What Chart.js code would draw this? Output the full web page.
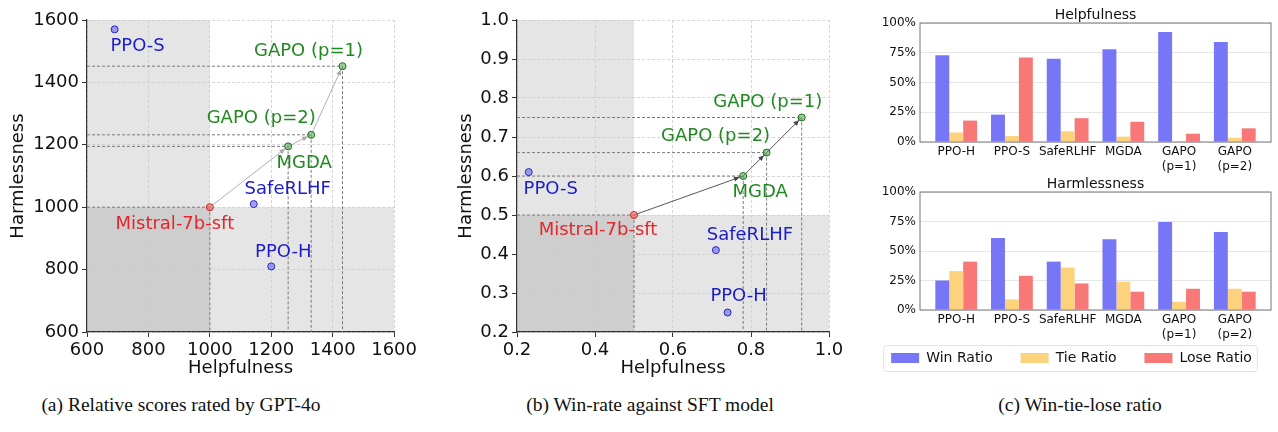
<!DOCTYPE html>
<html lang="en">
<head>
<meta charset="UTF-8" />
<title>Helpfulness vs harmlessness</title>
<script src="https://cdn.jsdelivr.net/npm/chart.js@4.4.1/dist/chart.umd.min.js"></script>
<style>
  body { margin: 0; background: #fff; width: 1278px; height: 432px; position: relative; overflow: hidden; }
  canvas { position: absolute; }
  .cap { position: absolute; top: 394px; font-family: "Liberation Serif", serif; font-size: 19.5px; color: #111;
         white-space: nowrap; transform: translateX(-50%); }
</style>
</head>
<body>
<canvas id="gpt" width="420" height="384" style="left:0;top:0"></canvas>
<canvas id="winrate" width="420" height="384" style="left:430px;top:0"></canvas>
<canvas id="helpBars" width="418" height="178" style="left:860px;top:0"></canvas>
<canvas id="harmBars" width="418" height="208" style="left:860px;top:170px"></canvas>
<div class="cap" style="left:181px">(a) Relative scores rated by GPT-4o</div>
<div class="cap" style="left:650px">(b) Win-rate against SFT model</div>
<div class="cap" style="left:1080px">(c) Win-tie-lose ratio</div>

<script>
// models shown in the two scatter panels
const models = ["PPO-H", "PPO-S", "SafeRLHF", "Mistral-7b-sft", "MGDA", "GAPO (p=2)", "GAPO (p=1)"];
const modelKind = ["base", "base", "base", "sft", "ours", "ours", "ours"];

// (a) relative scores by GPT-4o
const gptHelp = [1200, 690, 1143, 1000, 1255, 1330, 1432];
const gptHarm = [810, 1570, 1010, 1000, 1195, 1232, 1452];

// (b) win-rate against the SFT model
const winHelp = [0.74, 0.23, 0.71, 0.5, 0.78, 0.84, 0.93];
const winHarm = [0.25, 0.61, 0.41, 0.5, 0.6, 0.66, 0.75];

// path drawn from the SFT model through our methods
const pathOrder = ["Mistral-7b-sft", "MGDA", "GAPO (p=2)", "GAPO (p=1)"];

// (c) win / tie / lose ratios (%)
const barModels = [["PPO-H"], ["PPO-S"], ["SafeRLHF"], ["MGDA"], ["GAPO", "(p=1)"], ["GAPO", "(p=2)"]];
const helpWin = [73, 23, 70, 78, 92.5, 84];
const helpTie = [8, 5, 9, 4.5, 0.5, 3.5];
const helpLose = [18, 71, 20, 17, 7, 11.5];
const harmWin = [25, 61, 41, 60, 74.5, 66];
const harmTie = [33, 9, 36, 24, 7, 18];
const harmLose = [41, 29, 22.5, 15.5, 18, 15.5];

// label placement (pixel shift from the point to the text centre)
const labelShiftA = [[12, -14], [23, 17], [34, -15], [-35, 17], [16, 17], [-50, -16], [-34, -15]];
const labelShiftB = [[11, -16], [22, 17], [34, -15], [-36, 15], [17, 16], [-51, -16], [-34, -15]];

Chart.defaults.font.family = "'DejaVu Sans', sans-serif";
Chart.defaults.color = "#111";
Chart.defaults.animation = false;
Chart.defaults.plugins.tooltip.enabled = false;

const kindText = { base: "#1c1cc8", sft: "#e2262a", ours: "#228822" };
const kindFill = { base: "rgba(90,90,240,0.55)", sft: "rgba(236,100,100,0.6)", ours: "rgba(90,170,90,0.6)" };
const kindEdge = { base: "#2424cc", sft: "#d02020", ours: "#1d6e1d" };

function linAxis(o) {
  return {
    type: "linear",
    min: o.min,
    max: o.max,
    ticks: {
      stepSize: o.step, font: { size: 18 }, color: "#111", padding: 3, maxRotation: 0, autoSkip: false,
      callback: (v) => v.toFixed(o.dec)
    },
    grid: { color: "#cccccc", lineWidth: 0.8, tickLength: 5, tickColor: "#333", tickWidth: 1 },
    border: { color: "#333", width: 1.2, dash: [3, 2] },
    title: { display: true, text: o.title, font: { size: 18 }, color: "#111", padding: o.titlePad },
    afterFit: (s) => { if (s.isHorizontal()) s.height = o.fit; else s.width = o.fit; }
  };
}

function scatterPanel(id, xs, ys, cfg) {
  const pts = xs.map((x, i) => ({ x: x, y: ys[i] }));
  const path = pathOrder.map((n) => pts[models.indexOf(n)]);

  const decor = {
    id: "decor",
    beforeDraw(chart) {
      // shaded regions worse than the SFT model on either axis
      const { ctx, chartArea: a, scales } = chart;
      const sx = scales.x.getPixelForValue(cfg.split);
      const sy = scales.y.getPixelForValue(cfg.split);
      ctx.save();
      ctx.fillStyle = "rgba(0,0,0,0.1)";
      ctx.fillRect(a.left, a.top, sx - a.left, a.bottom - a.top);
      ctx.fillRect(a.left, sy, a.right - a.left, a.bottom - sy);
      ctx.restore();
    },
    beforeDatasetsDraw(chart) {
      // dotted projections from the path points to both axes
      const { ctx, chartArea: a, scales } = chart;
      ctx.save();
      ctx.strokeStyle = "#7a7a7a";
      ctx.lineWidth = 1;
      ctx.setLineDash([3, 2]);
      path.forEach((p) => {
        const px = scales.x.getPixelForValue(p.x);
        const py = scales.y.getPixelForValue(p.y);
        ctx.beginPath();
        ctx.moveTo(a.left, py);
        ctx.lineTo(px, py);
        ctx.moveTo(px, py);
        ctx.lineTo(px, a.bottom);
        ctx.stroke();
      });
      ctx.restore();
    },
    afterDatasetsDraw(chart) {
      const { ctx, scales } = chart;
      ctx.save();
      // arrow heads along the path
      ctx.fillStyle = cfg.lineColor;
      for (let i = 1; i < path.length; i++) {
        const x0 = scales.x.getPixelForValue(path[i - 1].x), y0 = scales.y.getPixelForValue(path[i - 1].y);
        const x1 = scales.x.getPixelForValue(path[i].x), y1 = scales.y.getPixelForValue(path[i].y);
        const ang = Math.atan2(y1 - y0, x1 - x0);
        const tx = x1 - Math.cos(ang) * 4, ty = y1 - Math.sin(ang) * 4;
        ctx.beginPath();
        ctx.moveTo(tx, ty);
        ctx.lineTo(tx - Math.cos(ang - 0.45) * 6, ty - Math.sin(ang - 0.45) * 6);
        ctx.lineTo(tx - Math.cos(ang + 0.45) * 6, ty - Math.sin(ang + 0.45) * 6);
        ctx.closePath();
        ctx.fill();
      }
      // model names
      ctx.font = "18px 'DejaVu Sans', sans-serif";
      ctx.textAlign = "center";
      ctx.textBaseline = "middle";
      pts.forEach((p, i) => {
        const px = scales.x.getPixelForValue(p.x);
        const py = scales.y.getPixelForValue(p.y);
        ctx.fillStyle = kindText[modelKind[i]];
        ctx.fillText(models[i], px + cfg.shift[i][0], py + cfg.shift[i][1]);
      });
      ctx.restore();
    }
  };

  return new Chart(document.getElementById(id), {
    type: "scatter",
    data: {
      datasets: [
        {
          data: pts,
          pointRadius: 3.5,
          pointHoverRadius: 3.5,
          pointBorderWidth: 1,
          pointBackgroundColor: modelKind.map((k) => kindFill[k]),
          pointBorderColor: modelKind.map((k) => kindEdge[k]),
          order: 0
        },
        {
          data: path,
          showLine: true,
          pointRadius: 0,
          borderColor: cfg.lineColor,
          borderWidth: 0.9,
          order: 1
        }
      ]
    },
    options: {
      responsive: false,
      layout: { padding: cfg.pad },
      plugins: { legend: { display: false } },
      scales: {
        x: linAxis({ min: cfg.xMin, max: cfg.xMax, step: cfg.xStep, dec: cfg.dec, title: "Helpfulness", fit: 52, titlePad: { top: 0, bottom: 5 } }),
        y: linAxis({ min: cfg.yMin, max: cfg.yMax, step: cfg.yStep, dec: cfg.dec, title: "Harmlessness", fit: cfg.yFit, titlePad: { top: 0, bottom: 0 } })
      }
    },
    plugins: [decor]
  });
}

scatterPanel("gpt", gptHelp, gptHarm, {
  xMin: 600, xMax: 1600, xStep: 200, yMin: 600, yMax: 1600, yStep: 200, dec: 0, split: 1000,
  pad: { top: 20, left: 8, right: 22, bottom: 0 }, yFit: 79, lineColor: "#a8a8a8", shift: labelShiftA
});

scatterPanel("winrate", winHelp, winHarm, {
  xMin: 0.2, xMax: 1.0, xStep: 0.2, yMin: 0.2, yMax: 1.0, yStep: 0.1, dec: 1, split: 0.5,
  pad: { top: 20, left: 26, right: 21, bottom: 0 }, yFit: 61, lineColor: "#444", shift: labelShiftB
});

const barColors = ["rgba(118,118,246,1)", "rgba(253,210,125,1)", "rgba(248,120,120,1)"];

function barPanel(id, title, win, tie, lose, cfg) {
  const framePlugin = {
    id: "frame",
    afterDatasetsDraw(chart) {
      const { ctx, chartArea: a } = chart;
      ctx.save();
      ctx.strokeStyle = "#777";
      ctx.lineWidth = 1;
      ctx.strokeRect(a.left, a.top, a.right - a.left, a.bottom - a.top);
      ctx.font = "14px 'DejaVu Sans', sans-serif";
      ctx.fillStyle = "#111";
      ctx.textAlign = "center";
      ctx.textBaseline = "middle";
      ctx.fillText(title, (a.left + a.right) / 2, a.top - 8);
      ctx.restore();
    },
    afterDraw(chart) {
      if (!cfg.legend) return;
      const boxes = chart.legend.legendHitBoxes;
      const l = Math.min(...boxes.map((b) => b.left)) - 8;
      const r = Math.max(...boxes.map((b) => b.left + b.width)) + 5;
      const t = Math.min(...boxes.map((b) => b.top)) - 6;
      const btm = Math.max(...boxes.map((b) => b.top + b.height)) + 6;
      const ctx = chart.ctx;
      ctx.save();
      ctx.strokeStyle = "#e2e2e2";
      ctx.lineWidth = 1;
      ctx.beginPath();
      ctx.roundRect(l + 0.5, t + 0.5, r - l, btm - t, 3);
      ctx.stroke();
      ctx.restore();
    }
  };

  const series = [["Win Ratio", win], ["Tie Ratio", tie], ["Lose Ratio", lose]];
  return new Chart(document.getElementById(id), {
    type: "bar",
    data: {
      datasets: series.map((s, k) => ({
        label: s[0],
        data: s[1].map((v, i) => ({ x: i, y: v })),
        backgroundColor: barColors[k],
        borderWidth: 0,
        categoryPercentage: 0.75,
        barPercentage: 1.0
      }))
    },
    options: {
      responsive: false,
      layout: { padding: cfg.pad },
      plugins: {
        legend: {
          display: !!cfg.legend,
          position: "bottom",
          labels: {
            boxWidth: 28, boxHeight: 10, padding: 10, color: "#111", font: { size: 14 },
            generateLabels: (chart) => Chart.defaults.plugins.legend.labels.generateLabels(chart)
              .map((l, i, all) => (i < all.length - 1 ? Object.assign(l, { text: l.text + "    " }) : l))
          }
        }
      },
      scales: {
        x: {
          type: "linear",
          offset: false,
          min: -0.65,
          max: 5.65,
          afterBuildTicks: (s) => { s.ticks = barModels.map((_, i) => ({ value: i })); },
          ticks: { font: { size: 12 }, color: "#111", padding: 3, maxRotation: 0, autoSkip: false,
                   callback: (v) => barModels[v] },
          grid: { display: false, drawTicks: false },
          border: { display: false },
          afterFit: (s) => { s.height = cfg.xFit; }
        },
        y: {
          min: 0,
          max: 100,
          ticks: { stepSize: 25, font: { size: 12 }, color: "#111", padding: 4, callback: (v) => v + "%" },
          grid: { color: "#e6e6e6", lineWidth: 1, drawTicks: false },
          border: { display: false },
          afterFit: (s) => { s.width = 48; }
        }
      }
    },
    plugins: [framePlugin]
  });
}

barPanel("helpBars", "Helpfulness", helpWin, helpTie, helpLose, {
  pad: { top: 23, left: 12, right: 7, bottom: 0 }, xFit: 36, legend: false
});
barPanel("harmBars", "Harmlessness", harmWin, harmTie, harmLose, {
  pad: { top: 22, left: 12, right: 7, bottom: 3 }, xFit: 31, legend: true
});
</script>
</body>
</html>
